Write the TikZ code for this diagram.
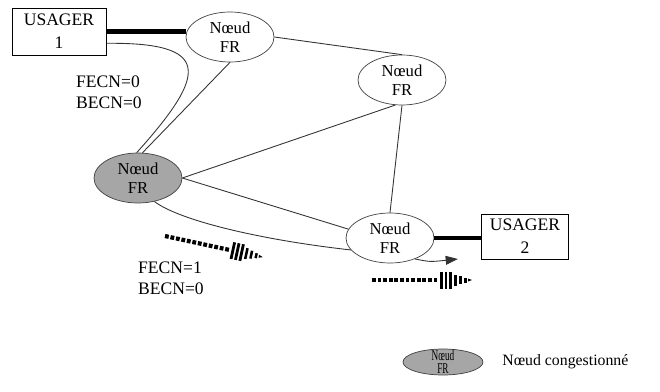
\documentclass[tikz,border=0pt]{standalone}
\usepackage{fontspec}
\setmainfont{Liberation Serif}
\newfontfamily\narrowserif[FakeStretch=0.62]{Liberation Serif}
\usepackage{tikz}
\usetikzlibrary{positioning, calc}
\usetikzlibrary{shapes.geometric}
\usetikzlibrary{arrows.meta}

\tikzset{
  frnode/.style={ellipse, draw=black!75, inner sep=0pt, minimum width=1.76cm, minimum height=1cm, align=center, font=\fontsize{9.5}{11}\selectfont},
  congested/.style={frnode, fill=black!35},
  usager/.style={draw, rectangle, align=center, inner sep=0pt, font=\fontsize{10}{13}\selectfont},
  link/.style={draw=black!80, line width=0.5pt},
  access/.style={line width=2.3pt},
  flag/.style={align=left, font=\fontsize{10}{12}\selectfont},
}

\begin{document}
\begin{tikzpicture}[x=0.02cm, y=-0.02cm]
                \useasboundingbox (0,0) rectangle (660,392);
                % nodes of the network
                \node[usager, minimum width=1.88cm, minimum height=0.94cm] (u1) at (59,31.5) {USAGER\\1};
                \node[usager, minimum width=1.74cm, minimum height=0.9cm] (u2) at (525,236.5) {USAGER\\2};
                \node[frnode] (fr1) at (230,37) {Nœud\\FR};
                \node[frnode] (fr2) at (402,80) {Nœud\\FR};
                \node[congested] (grey) at (138,178) {Nœud\\FR};
                \node[frnode] (fr4) at (390,238) {Nœud\\FR};
                % access lines
                \draw[access] (u1.east) -- (u1.east -| fr1.west);
                \draw[access] (fr4.east) -- (fr4.east -| u2.west);
                % links
                \draw[link] (fr1.east) -- (fr2.north);
                \draw[link] (fr1.south) -- (grey.80);
                \draw[link] (u1.-14) .. controls +(105,-1) and +(72,-80) .. (grey.93);
                \draw[link] (grey.east) -- (fr2.255);
                \draw[link] (grey.east) -- (fr4.168);
                \draw[link] (grey.-55) .. controls +(25,19) and +(-90,-10) .. (fr4.197);
                \draw[link] (fr2.south) -- (fr4.north);
                \coordinate (tip) at (458,259);
                \draw[link, -{Triangle[length=7pt,width=5pt]}] (fr4.-40) .. controls +(15,3) .. (tip);
                % bits
                \node[flag] (b0) at (109,92) {FECN=0\\BECN=0};
                \node[flag] (b1) at (171,278) {FECN=1\\BECN=0};
                % flow arrows
                \coordinate (flow1) at (165,236);
                \coordinate (flow2) at (372,280);
                \foreach \p/\a in {flow1/-12.2, flow2/0}{
                  \begin{scope}[shift={(\p)}, rotate=\a]
                    \foreach \x in {0,5.6,...,62} \fill (\x,-2.1) rectangle ++(3.8,4.2);
                    \foreach \x in {68,72.5,77} \fill (\x,-8.5) rectangle ++(2.8,17);
                    \foreach \x/\h in {82/5.5,87/4,92/2.5} \fill (\x,-\h) rectangle ++(2.5,2*\h);
                    \fill (96,-1.5) -- (100,0) -- (96,1.5) -- cycle;
                  \end{scope}
                }
                % legend
                \node[congested, minimum width=1.6cm, minimum height=0.52cm, inner sep=-6pt, font=\narrowserif\fontsize{8.5}{7.6}\selectfont] (key) at (443,362) {Nœud\\FR};
                \node[anchor=west, inner sep=0pt, font=\fontsize{9}{11}\selectfont] (keytext) at (502,362) {Nœud congestionné};
            \end{tikzpicture}
\end{document}
